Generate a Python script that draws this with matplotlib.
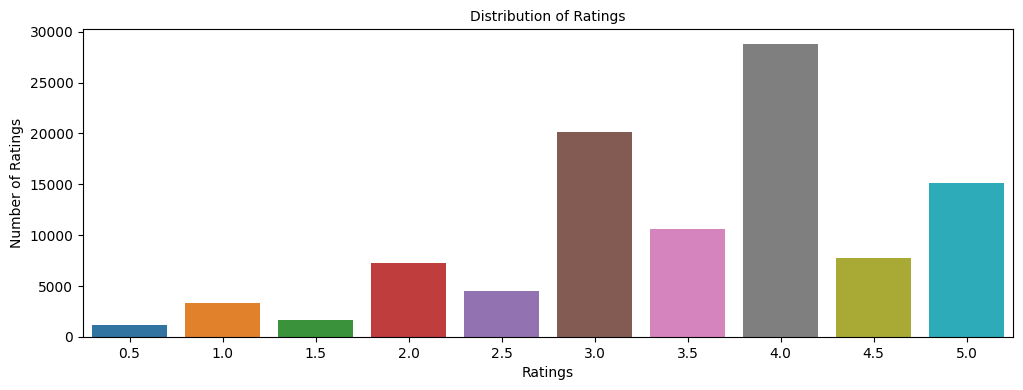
import matplotlib
matplotlib.use("Agg")
import matplotlib.pyplot as plt
import seaborn as sns
import pandas as pd

ratings = ["0.5", "1.0", "1.5", "2.0", "2.5", "3.0", "3.5", "4.0", "4.5", "5.0"]
counts = [1180, 3330, 1670, 7260, 4510, 20110, 10600, 28820, 7750, 15110]

df = pd.DataFrame({"rating": ratings, "count": counts})

fig = plt.figure(figsize=(10.23, 3.9), dpi=100)
ax = fig.add_axes([83 / 1023, 53 / 390, 930 / 1023, 308 / 390])
sns.barplot(data=df, x="rating", y="count", hue="rating", palette="tab10",
            legend=False, ax=ax)
ax.set_ylim(0, max(counts) * 1.05)
ax.set_title("Distribution of Ratings", fontsize=10)
ax.set_xlabel("Ratings")
ax.set_ylabel("Number of Ratings")

fig.savefig("out.png", dpi=100)
